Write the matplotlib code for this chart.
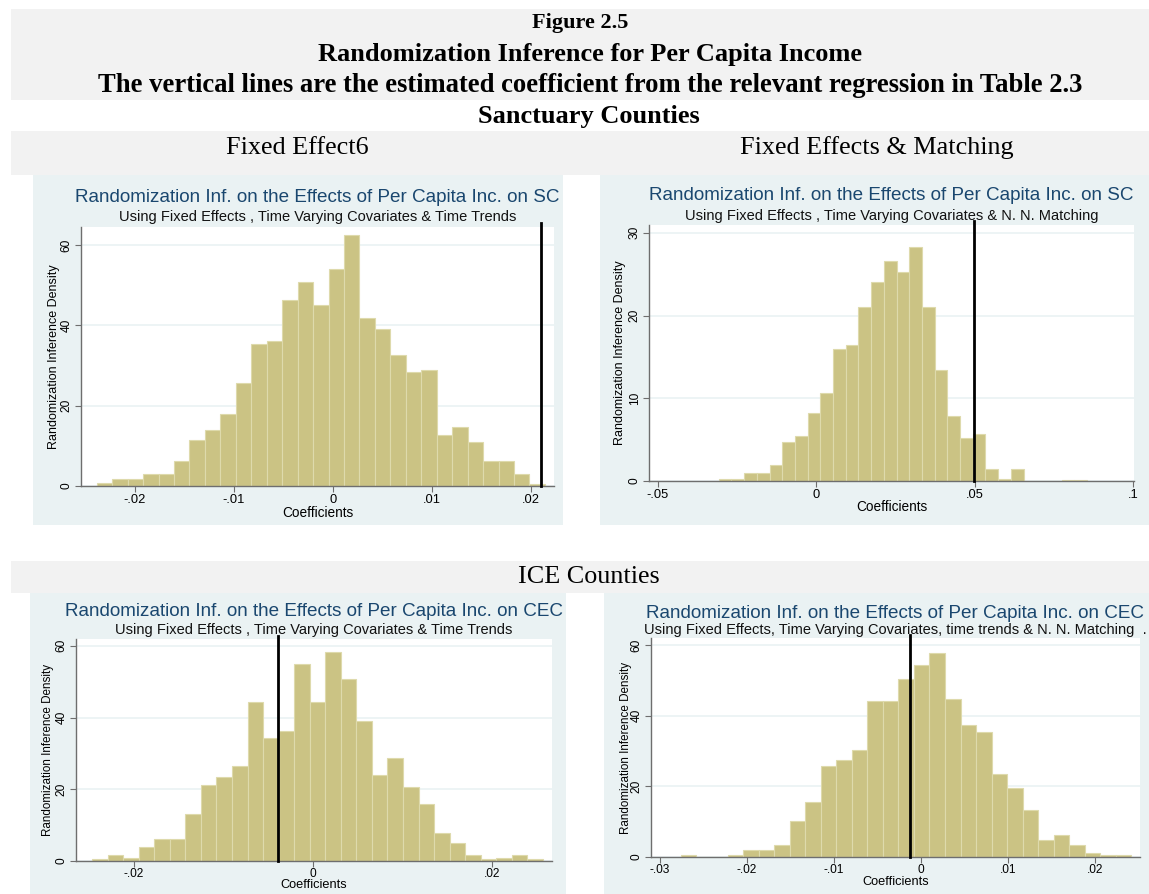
import numpy as np
import matplotlib
matplotlib.use("Agg")
import matplotlib.pyplot as plt
from matplotlib.patches import Rectangle

W, H = 1149, 894

# ---- histogram data: left edge of first bin, bin width, density per bin ----
sc_fe_start = -0.02386
sc_fe_width = 0.00156
sc_fe_density = [0.66, 1.7, 1.7, 3.1, 3.1, 6.3, 11.5, 14.0, 17.9, 25.7,
                 35.3, 36.0, 46.3, 50.8, 45.0, 54.0, 62.4, 41.8, 39.2, 32.7,
                 28.3, 28.8, 12.8, 14.7, 10.9, 6.3, 6.3, 3.1, 0.5]
sc_fe_coef = 0.0210

sc_match_start = -0.0308
sc_match_width = 0.00401
sc_match_density = [0.2, 0.2, 1.0, 1.0, 1.9, 4.7, 5.4, 8.2, 10.6, 15.9,
                    16.4, 21.0, 24.1, 26.6, 25.3, 28.3, 21.0, 13.4, 7.9, 5.2,
                    5.7, 1.4, 0.2, 1.4, 0.0, 0.0, 0.0, 0.15, 0.15]
sc_match_coef = 0.0499

ice_fe_start = -0.02464
ice_fe_width = 0.001734
ice_fe_density = [0.5, 1.6, 0.9, 3.8, 6.0, 6.0, 13.1, 21.2, 23.5, 26.4,
                  44.4, 34.4, 36.3, 54.8, 44.4, 58.3, 50.8, 39.1, 24.0, 28.8,
                  20.6, 16.0, 7.9, 5.0, 1.6, 0.5, 0.9, 1.6, 0.5]
ice_fe_coef = -0.0039

ice_match_start = -0.02759
ice_match_width = 0.001784
ice_match_density = [0.5, 0.0, 0.0, 0.5, 2.1, 2.1, 3.3, 10.1, 15.6, 25.8,
                     27.4, 30.2, 44.2, 44.2, 50.5, 54.4, 57.8, 44.8, 37.5, 35.3,
                     23.4, 19.6, 13.4, 4.9, 6.1, 3.3, 1.1, 0.5, 0.5]
ice_match_coef = -0.00132

sc_fe_ticks = [-0.02, -0.01, 0, 0.01, 0.02]
sc_fe_ticklabels = ["-.02", "-.01", "0", ".01", ".02"]
sc_match_ticks = [-0.05, 0, 0.05, 0.1]
sc_match_ticklabels = ["-.05", "0", ".05", ".1"]
ice_fe_ticks = [-0.02, 0, 0.02]
ice_fe_ticklabels = ["-.02", "0", ".02"]
ice_match_ticks = [-0.03, -0.02, -0.01, 0, 0.01, 0.02]
ice_match_ticklabels = ["-.03", "-.02", "-.01", "0", ".01", ".02"]

title_sc = "Randomization Inf. on the Effects of Per Capita Inc. on SC"
title_cec = "Randomization Inf. on the Effects of Per Capita Inc. on CEC"
sub_1 = "Using Fixed Effects , Time Varying Covariates & Time Trends"
sub_2 = "Using Fixed Effects , Time Varying Covariates & N. N. Matching"
sub_3 = "Using Fixed Effects , Time Varying Covariates & Time Trends"
sub_4 = "Using Fixed Effects, Time Varying Covariates, time trends & N. N. Matching  ."

BAR = "#CBC384"
BAR_EDGE = "#DEDAAC"
PANEL_BG = "#EAF2F3"
BAND = "#F2F2F2"
NAVY = "#1A476F"
AXIS = "#6E6E6E"
SANS = ["Liberation Sans", "Arial", "DejaVu Sans"]
SERIF = ["Liberation Serif", "Times New Roman", "DejaVu Serif"]

fig = plt.figure(figsize=(W / 100, H / 100), dpi=100)
fig.patch.set_facecolor("white")


def fx(x):
    return x / W


def fy(y):
    return 1 - y / H


def band(x0, y0, x1, y1, color):
    fig.patches.append(Rectangle((fx(x0), fy(y1)), fx(x1) - fx(x0), fy(y0) - fy(y1),
                                 transform=fig.transFigure, facecolor=color,
                                 edgecolor="none", zorder=-5))


def ftext(x, y, s, **kw):
    fig.text(fx(x), fy(y), s, ha="center", va="center", **kw)


# header bands and labels
band(11, 9, 1149, 100, BAND)
band(11, 131, 1149, 175, BAND)
band(11, 561, 1149, 593, BAND)

ftext(580, 23, "Figure 2.5", family=SERIF, weight="bold", fontsize=16)
ftext(590, 55, "Randomization Inference for Per Capita Income", family=SERIF,
      weight="bold", fontsize=19)
ftext(590, 86, "The vertical lines are the estimated coefficient from the relevant "
      "regression in Table 2.3", family=SERIF, weight="bold", fontsize=19.2)
ftext(589, 117, "Sanctuary Counties", family=SERIF, weight="bold", fontsize=19)
ftext(297, 148, "Fixed Effect6", family=SERIF, fontsize=18.8)
ftext(877, 148, "Fixed Effects & Matching", family=SERIF, fontsize=18.8)
ftext(589, 577, "ICE Counties", family=SERIF, fontsize=18.8)


def panel(bg, ax_box, xlim, ylim, yticks, start, width, dens, coef,
          xticks, xticklabels, title, subtitle, title_y, sub_y,
          ylabel_x, xlabel_y, small=False):
    bx0, by0, bx1, by1 = bg
    band(bx0, by0, bx1, by1, PANEL_BG)
    x0, y0, x1, y1 = ax_box
    ax = fig.add_axes([fx(x0), fy(y1), fx(x1) - fx(x0), fy(y0) - fy(y1)])
    ax.set_facecolor("white")
    ax.set_xlim(*xlim)
    ax.set_ylim(*ylim)

    dens = np.asarray(dens, dtype=float)
    lefts = start + width * np.arange(len(dens))
    ax.bar(lefts, dens, width=width, align="edge", color=BAR,
           edgecolor=BAR_EDGE, linewidth=0.8, zorder=2)

    ax.axvline(coef, ymin=0, ymax=1.015, color="black", lw=2.0,
               clip_on=False, zorder=4)

    tick_fs = 8.6 if small else 9.3
    ax.set_yticks(yticks)
    ax.set_yticklabels([str(v) for v in yticks], rotation=90, va="center",
                       fontsize=8.6, family=SANS)
    ax.set_xticks(xticks)
    ax.set_xticklabels(xticklabels, fontsize=tick_fs, family=SANS)
    ax.yaxis.grid(True, color=PANEL_BG, lw=1.2, zorder=1)
    ax.set_axisbelow(True)
    for s in ("top", "right"):
        ax.spines[s].set_visible(False)
    for s in ("left", "bottom"):
        ax.spines[s].set_color(AXIS)
        ax.spines[s].set_linewidth(1.0)
    ax.tick_params(axis="x", colors=AXIS, labelcolor="black",
                   length=4, width=0.8, pad=1 if small else 2)
    ax.tick_params(axis="y", colors=AXIS, labelcolor="black",
                   length=4, width=0.8, pad=2)

    cx = (x0 + x1) / 2
    ftext(cx, title_y, title, family=SANS, fontsize=13.6, color=NAVY)
    ftext(cx, sub_y, subtitle, family=SANS, fontsize=10.5, color="#111111")
    fig.text(fx(ylabel_x), fy((y0 + y1) / 2), "Randomization Inference Density",
             rotation=90, ha="center", va="center",
             fontsize=8.4 if small else 9, family=SANS)
    ftext(cx, xlabel_y, "Coefficients", family=SANS,
          fontsize=9.2 if small else 9.8)
    return ax


panel((33, 175, 563, 525), (81, 227, 554, 486), (-0.02545, 0.0223), (0, 64.5),
      [0, 20, 40, 60], sc_fe_start, sc_fe_width, sc_fe_density, sc_fe_coef,
      sc_fe_ticks, sc_fe_ticklabels, title_sc, sub_1, 197, 217, 54, 513)

panel((600, 175, 1149, 525), (649, 225, 1134, 481), (-0.0528, 0.1003), (0, 30.95),
      [0, 10, 20, 30], sc_match_start, sc_match_width, sc_match_density,
      sc_match_coef, sc_match_ticks, sc_match_ticklabels, title_sc, sub_2,
      196, 216, 620, 507)

panel((30, 593, 566, 894), (76, 639, 552, 861), (-0.02644, 0.02666), (0, 61.9),
      [0, 20, 40, 60], ice_fe_start, ice_fe_width, ice_fe_density, ice_fe_coef,
      ice_fe_ticks, ice_fe_ticklabels, title_cec, sub_3, 612, 630, 48, 885,
      small=True)

panel((604, 593, 1149, 894), (651, 638, 1140, 857), (-0.03103, 0.02513), (0, 62),
      [0, 20, 40, 60], ice_match_start, ice_match_width, ice_match_density,
      ice_match_coef, ice_match_ticks, ice_match_ticklabels, title_cec, sub_4,
      613, 630, 626, 882, small=True)

fig.savefig("out.png", dpi=100, facecolor="white")
